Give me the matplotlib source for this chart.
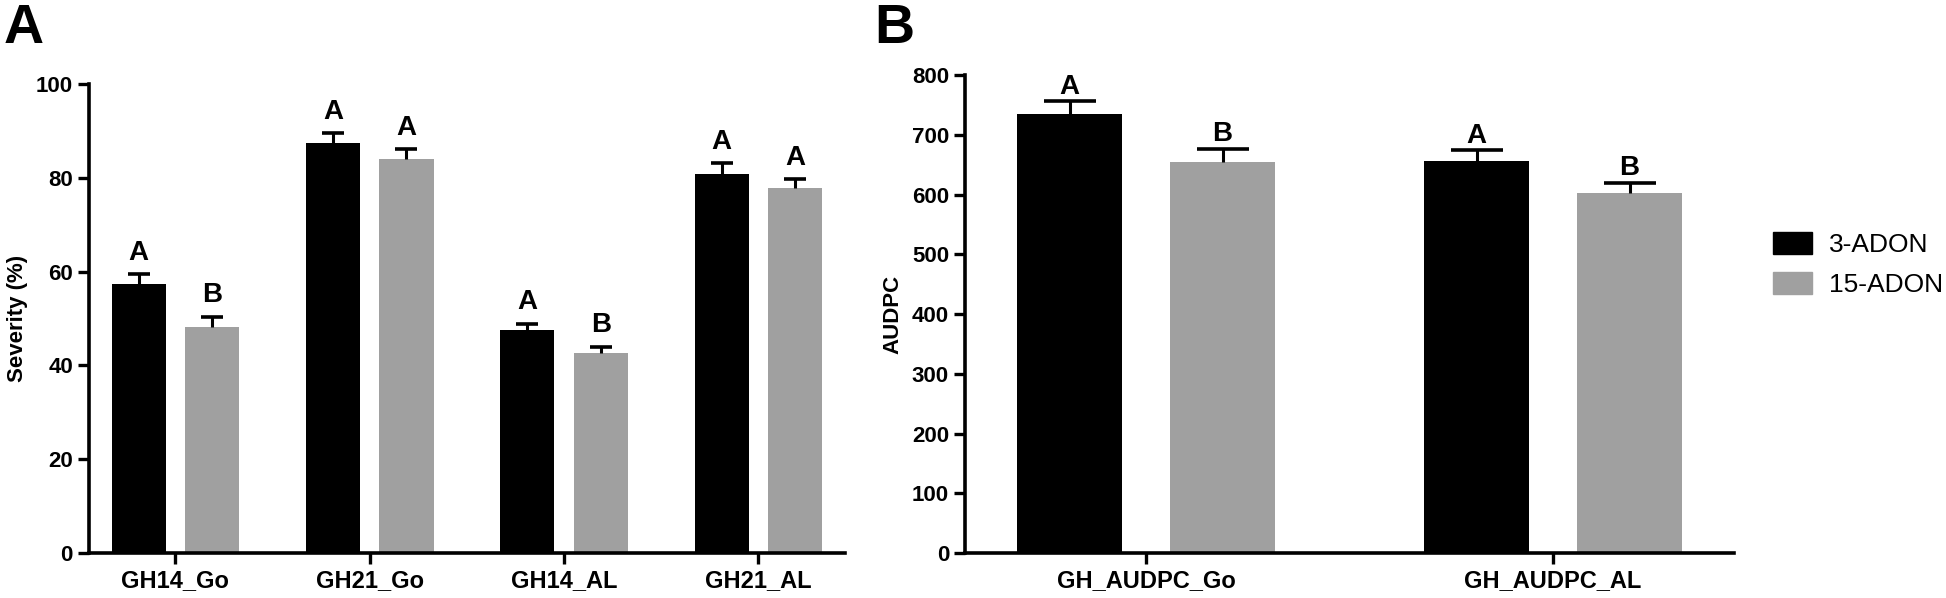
import matplotlib
matplotlib.use('Agg')
import matplotlib.pyplot as plt
import numpy as np

# panel A: severity (%)
sev_groups = ['GH14_Go', 'GH21_Go', 'GH14_AL', 'GH21_AL']
sev_3adon = [57.4, 87.4, 47.5, 80.9]
sev_3adon_err = [2.1, 2.1, 1.4, 2.2]
sev_15adon = [48.1, 84.0, 42.6, 77.8]
sev_15adon_err = [2.3, 2.1, 1.4, 2.0]
sev_letters_3 = ['A', 'A', 'A', 'A']
sev_letters_15 = ['B', 'A', 'B', 'A']

# panel B: AUDPC
aud_groups = ['GH_AUDPC_Go', 'GH_AUDPC_AL']
aud_3adon = [735, 656]
aud_3adon_err = [21, 18]
aud_15adon = [655, 603]
aud_15adon_err = [22, 17]
aud_letters_3 = ['A', 'A']
aud_letters_15 = ['B', 'B']

series_names = ['3-ADON', '15-ADON']
colors = ['#000000', '#a0a0a0']

plt.rcParams['font.family'] = ['Liberation Sans', 'DejaVu Sans']
plt.rcParams['font.weight'] = 'bold'


def style_axes(ax):
    for s in ['top', 'right']:
        ax.spines[s].set_visible(False)
    for s in ['left', 'bottom']:
        ax.spines[s].set_linewidth(2.6)
    ax.tick_params(axis='both', width=2.4, length=8, labelsize=16)
    ax.tick_params(axis='x', labelsize=17)
    for lab in ax.get_xticklabels() + ax.get_yticklabels():
        lab.set_fontweight('bold')


def bar_panel(ax, groups, v3, e3, v15, e15, l3, l15, width, off, cap, gap, lfs):
    x = np.arange(len(groups))
    for vals, errs, letters, c, sign in [(v3, e3, l3, colors[0], -1),
                                         (v15, e15, l15, colors[1], 1)]:
        pos = x + sign * off
        vals = np.array(vals)
        errs = np.array(errs)
        ax.bar(pos, vals, width, color=c, zorder=2)
        # upper-only error bars: stem plus a cap at the top
        ax.errorbar(pos, vals, yerr=[np.zeros(len(vals)), errs], fmt='none',
                    ecolor='black', elinewidth=2.2, capsize=0, zorder=3)
        ax.plot(pos, vals + errs, ls='none', marker='_', markersize=2 * cap,
                mew=2.6, color='black', zorder=3)
        for p, v, e, t in zip(pos, vals, errs, letters):
            ax.annotate(t, (p, v + e), xytext=(0, gap), textcoords='offset points',
                        ha='center', va='bottom', fontsize=lfs, fontweight='bold')
    ax.set_xticks(x)
    ax.set_xticklabels(groups)
    ax.set_xlim(-0.445, len(groups) - 1 + 0.445)
    style_axes(ax)


fig = plt.figure(figsize=(19.46, 5.98), dpi=100)
axA = fig.add_axes([0.0457, 0.0753, 0.3885, 0.784])
axB = fig.add_axes([0.4959, 0.0753, 0.3952, 0.799])

bar_panel(axA, sev_groups, sev_3adon, sev_3adon_err, sev_15adon, sev_15adon_err,
          sev_letters_3, sev_letters_15, 0.278, 0.189, 8, 6, 20)
axA.set_ylim(0, 100)
axA.set_yticks([0, 20, 40, 60, 80, 100])
axA.set_ylabel('Severity (%)', fontsize=16, fontweight='bold', labelpad=6)

bar_panel(axB, aud_groups, aud_3adon, aud_3adon_err, aud_15adon, aud_15adon_err,
          aud_letters_3, aud_letters_15, 0.26, 0.188, 19, 1, 20)
axB.set_ylim(0, 800)
axB.set_yticks(np.arange(0, 801, 100))
axB.set_ylabel('AUDPC', fontsize=16, fontweight='bold', labelpad=6)

fig.text(0.002, 0.995, 'A', fontsize=40, fontweight='bold', va='top', ha='left')
fig.text(0.449, 0.995, 'B', fontsize=40, fontweight='bold', va='top', ha='left')

handles = [plt.Rectangle((0, 0), 1, 1, color=c) for c in colors]
fig.legend(handles, series_names, loc='upper left',
           bbox_to_anchor=(1773 / 1946, 1 - 232 / 598),
           frameon=False, prop={'size': 19, 'weight': 'normal'},
           borderaxespad=0, borderpad=0,
           handlelength=1.48, handleheight=0.91, labelspacing=0.55,
           handletextpad=0.64)

fig.savefig('out.png', dpi=100)
